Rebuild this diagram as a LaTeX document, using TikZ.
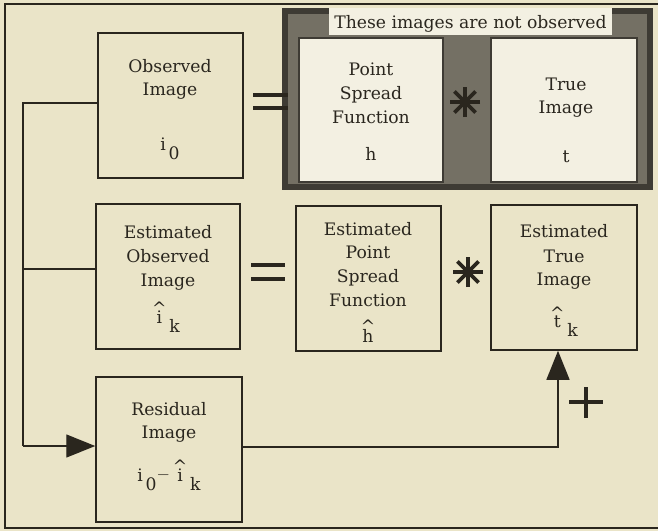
\documentclass[tikz,border=0pt]{standalone}
\usepackage{fontspec}
\setmainfont{DejaVu Serif}
\usetikzlibrary{arrows.meta,calc}

\definecolor{paper}{HTML}{EAE4C8}
\definecolor{ink}{HTML}{2A261E}
\definecolor{rim}{HTML}{3E3B34}
\definecolor{panelmid}{HTML}{747064}
\definecolor{hidden}{HTML}{F3F0E2}

% a caret set above a letter, baseline kept on the letter
\newcommand\caretover[1]{\leavevmode\vbox{\offinterlineskip
  \halign{\hfil##\hfil\cr\textasciicircum\cr\noalign{\kern-4pt}#1\cr}}}
\newcommand\lowered[1]{\raisebox{-9pt}{#1}}

\tikzset{
  imgbox/.style={draw=ink, line width=1.5pt, inner sep=0pt},
  hiddenbox/.style={imgbox, fill=hidden, draw=rim},
  txt/.style={font=\fontsize{17.2}{20}\selectfont, inner sep=0pt, anchor=base, text=ink},
  link/.style={draw=ink, line width=1.4pt},
  bigtip/.style={-{Triangle[length=29pt,width=23pt]}},
  symline/.style={draw=ink, line width=4pt},
}

\begin{document}
\begin{tikzpicture}[x=1pt,y=-1pt]
\useasboundingbox (0,0) rectangle (658,531);
\fill[paper] (0,0) rectangle (658,531);

% outer frame (open on the right)
\draw[ink, line width=1.6pt] (658,4) -- (5,4) -- (5,528) -- (658,528);

% panel holding the two unobserved images
\fill[panelmid] (282,8) rectangle (653,190);
\draw[rim, line width=6pt] (285,11) rectangle (650,187);
\fill[hidden] (329,8) rectangle (612,35);
\node[txt] (note) at (470.5,28) {These images are not observed};

% image boxes
\node[imgbox, minimum width=145pt, minimum height=145pt] (obs)   at (170.5,105.5) {};
\node[hiddenbox, minimum width=144pt, minimum height=144pt] (psf) at (371,110) {};
\node[hiddenbox, minimum width=146pt, minimum height=144pt] (true) at (564,110) {};
\node[imgbox, minimum width=144pt, minimum height=145pt] (eobs)  at (168,276.5) {};
\node[imgbox, minimum width=145pt, minimum height=145pt] (epsf)  at (368.5,278.5) {};
\node[imgbox, minimum width=146pt, minimum height=145pt] (etrue) at (564,277.5) {};
\node[imgbox, minimum width=146pt, minimum height=145pt] (res)   at (169,449.5) {};

% texts: observed image
\node[txt] (obs1) at (170,72) {Observed};
\node[txt] (obs2) at (170,95) {Image};
\node[txt] (obs3) at (170,150) {i\,\lowered{0}};
% point spread function
\node[txt] (psf1) at (371,75) {Point};
\node[txt] (psf2) at (371,99) {Spread};
\node[txt] (psf3) at (371,123) {Function};
\node[txt] (psf4) at (371,160) {h};
% true image
\node[txt] (true1) at (566,90) {True};
\node[txt] (true2) at (566,113) {Image};
\node[txt] (true3) at (566,162) {t};
% estimated observed image
\node[txt] (eobs1) at (168,238) {Estimated};
\node[txt] (eobs2) at (168,262) {Observed};
\node[txt] (eobs3) at (168,286) {Image};
\node[txt] (eobs4) at (166,323) {\caretover{i}\,\lowered{k}};
% estimated point spread function
\node[txt] (epsf1) at (368,235) {Estimated};
\node[txt] (epsf2) at (368,258) {Point};
\node[txt] (epsf3) at (368,282) {Spread};
\node[txt] (epsf4) at (368,306) {Function};
\node[txt] (epsf5) at (368,342) {\caretover{h}};
% estimated true image
\node[txt] (etrue1) at (564,237) {Estimated};
\node[txt] (etrue2) at (564,262) {True};
\node[txt] (etrue3) at (564,285) {Image};
\node[txt] (etrue4) at (564,327) {\caretover{t}\,\lowered{k}};
% residual image
\node[txt] (res1) at (169,415) {Residual};
\node[txt] (res2) at (169,438) {Image};
\node[txt] (res3) at (169,481) {i\,\lowered{0}\raisebox{2pt}{$-$}\,\caretover{i}\,\lowered{k}};

% equals signs
\draw[symline] (253,95) -- (288,95);
\draw[symline] (253,108) -- (288,108);
\draw[symline] (251,265) -- (285,265);
\draw[symline] (251,279) -- (285,279);

% convolution stars
\foreach \cx/\cy [count=\n] in {465/102, 468/272} {
  \coordinate (star\n) at (\cx,\cy);
  \foreach \a in {0,45,90,135}
    \draw[symline, line width=3.8pt] ($(star\n)+(\a:15)$) -- ($(star\n)+(\a+180:15)$);
}

% plus sign
\draw[symline] (569,402) -- (603,402);
\draw[symline] (586,387) -- (586,418);

% feedback bus on the left
\coordinate (busTop) at (23,103);
\coordinate (busMid) at (23,269);
\coordinate (busBot) at (23,446);
\draw[link] (obs.west |- busTop) -- (busTop) -- (busBot);
\draw[link] (eobs.west |- busMid) -- (busMid);
\draw[link, bigtip] (busBot) -- (res.west |- busBot);

% residual drives the true-image estimate
\coordinate (turn) at (558,447);
\draw[link, bigtip] (res.east |- turn) -- (turn) -- (turn |- etrue.south);
\end{tikzpicture}
\end{document}
